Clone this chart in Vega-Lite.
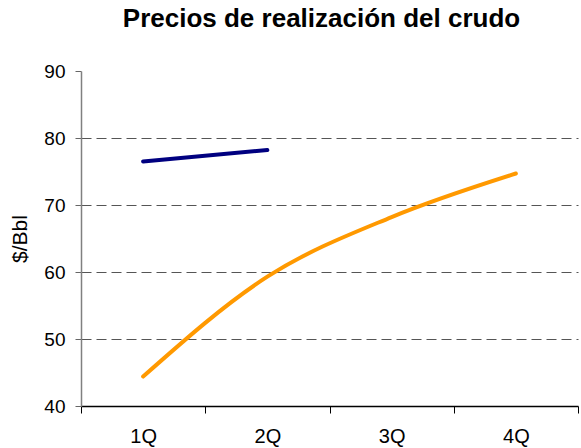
{
  "$schema": "https://vega.github.io/schema/vega-lite/v6.json",
  "width": 497,
  "height": 335,
  "autosize": {"type": "none"},
  "padding": {"left": 81, "top": 71, "right": 3, "bottom": 42},
  "background": "white",
  "config": {
    "font": "Liberation Sans",
    "view": {"stroke": null}
  },
  "title": {
    "text": "Precios de realización del crudo",
    "font": "Liberation Sans",
    "fontSize": 26,
    "fontWeight": "bold",
    "color": "#000000",
    "anchor": "middle",
    "offset": 30,
    "dx": -8
  },
  "data": {
    "values": [
      {"quarter": "1Q", "series": "2006", "price": 76.5},
      {"quarter": "2Q", "series": "2006", "price": 78.2},
      {"quarter": "1Q", "series": "2005", "price": 44.4},
      {"quarter": "2Q", "series": "2005", "price": 59.3},
      {"quarter": "3Q", "series": "2005", "price": 68.2},
      {"quarter": "4Q", "series": "2005", "price": 74.7}
    ]
  },
  "mark": {"type": "line", "strokeWidth": 4, "strokeCap": "round", "strokeJoin": "round", "interpolate": "monotone"},
  "encoding": {
    "x": {
      "field": "quarter",
      "type": "ordinal",
      "sort": ["1Q", "2Q", "3Q", "4Q"],
      "scale": {"paddingInner": 0, "paddingOuter": 0},
      "axis": {
        "title": null,
        "labelAngle": 0,
        "labelFont": "Liberation Sans",
        "labelFontSize": 20,
        "labelColor": "#000000",
        "labelPadding": 13,
        "tickBand": "extent",
        "tickSize": 7,
        "tickColor": "#000000",
        "domainColor": "#000000",
        "domainWidth": 1.5,
        "grid": false
      }
    },
    "y": {
      "field": "price",
      "type": "quantitative",
      "scale": {"domain": [40, 90], "nice": false, "zero": false},
      "axis": {
        "title": "$/Bbl",
        "titleFont": "Liberation Sans",
        "titleFontSize": 21,
        "titleFontWeight": "normal",
        "titleColor": "#000000",
        "titlePadding": 13,
        "values": [40, 50, 60, 70, 80, 90],
        "labelFont": "Liberation Sans",
        "labelFontSize": 19,
        "labelColor": "#000000",
        "labelPadding": 10,
        "tickSize": 6,
        "tickColor": "#666666",
        "domainColor": "#808080",
        "domainWidth": 1.5,
        "grid": true,
        "gridColor": "#555555",
        "gridDash": [10, 5],
        "gridWidth": 1,
        "gridOpacity": {"condition": {"test": "datum.value == 40 || datum.value == 90", "value": 0}, "value": 1}
      }
    },
    "color": {
      "field": "series",
      "type": "nominal",
      "scale": {"domain": ["2006", "2005"], "range": ["#000080", "#FF9900"]},
      "legend": null
    }
  }
}
